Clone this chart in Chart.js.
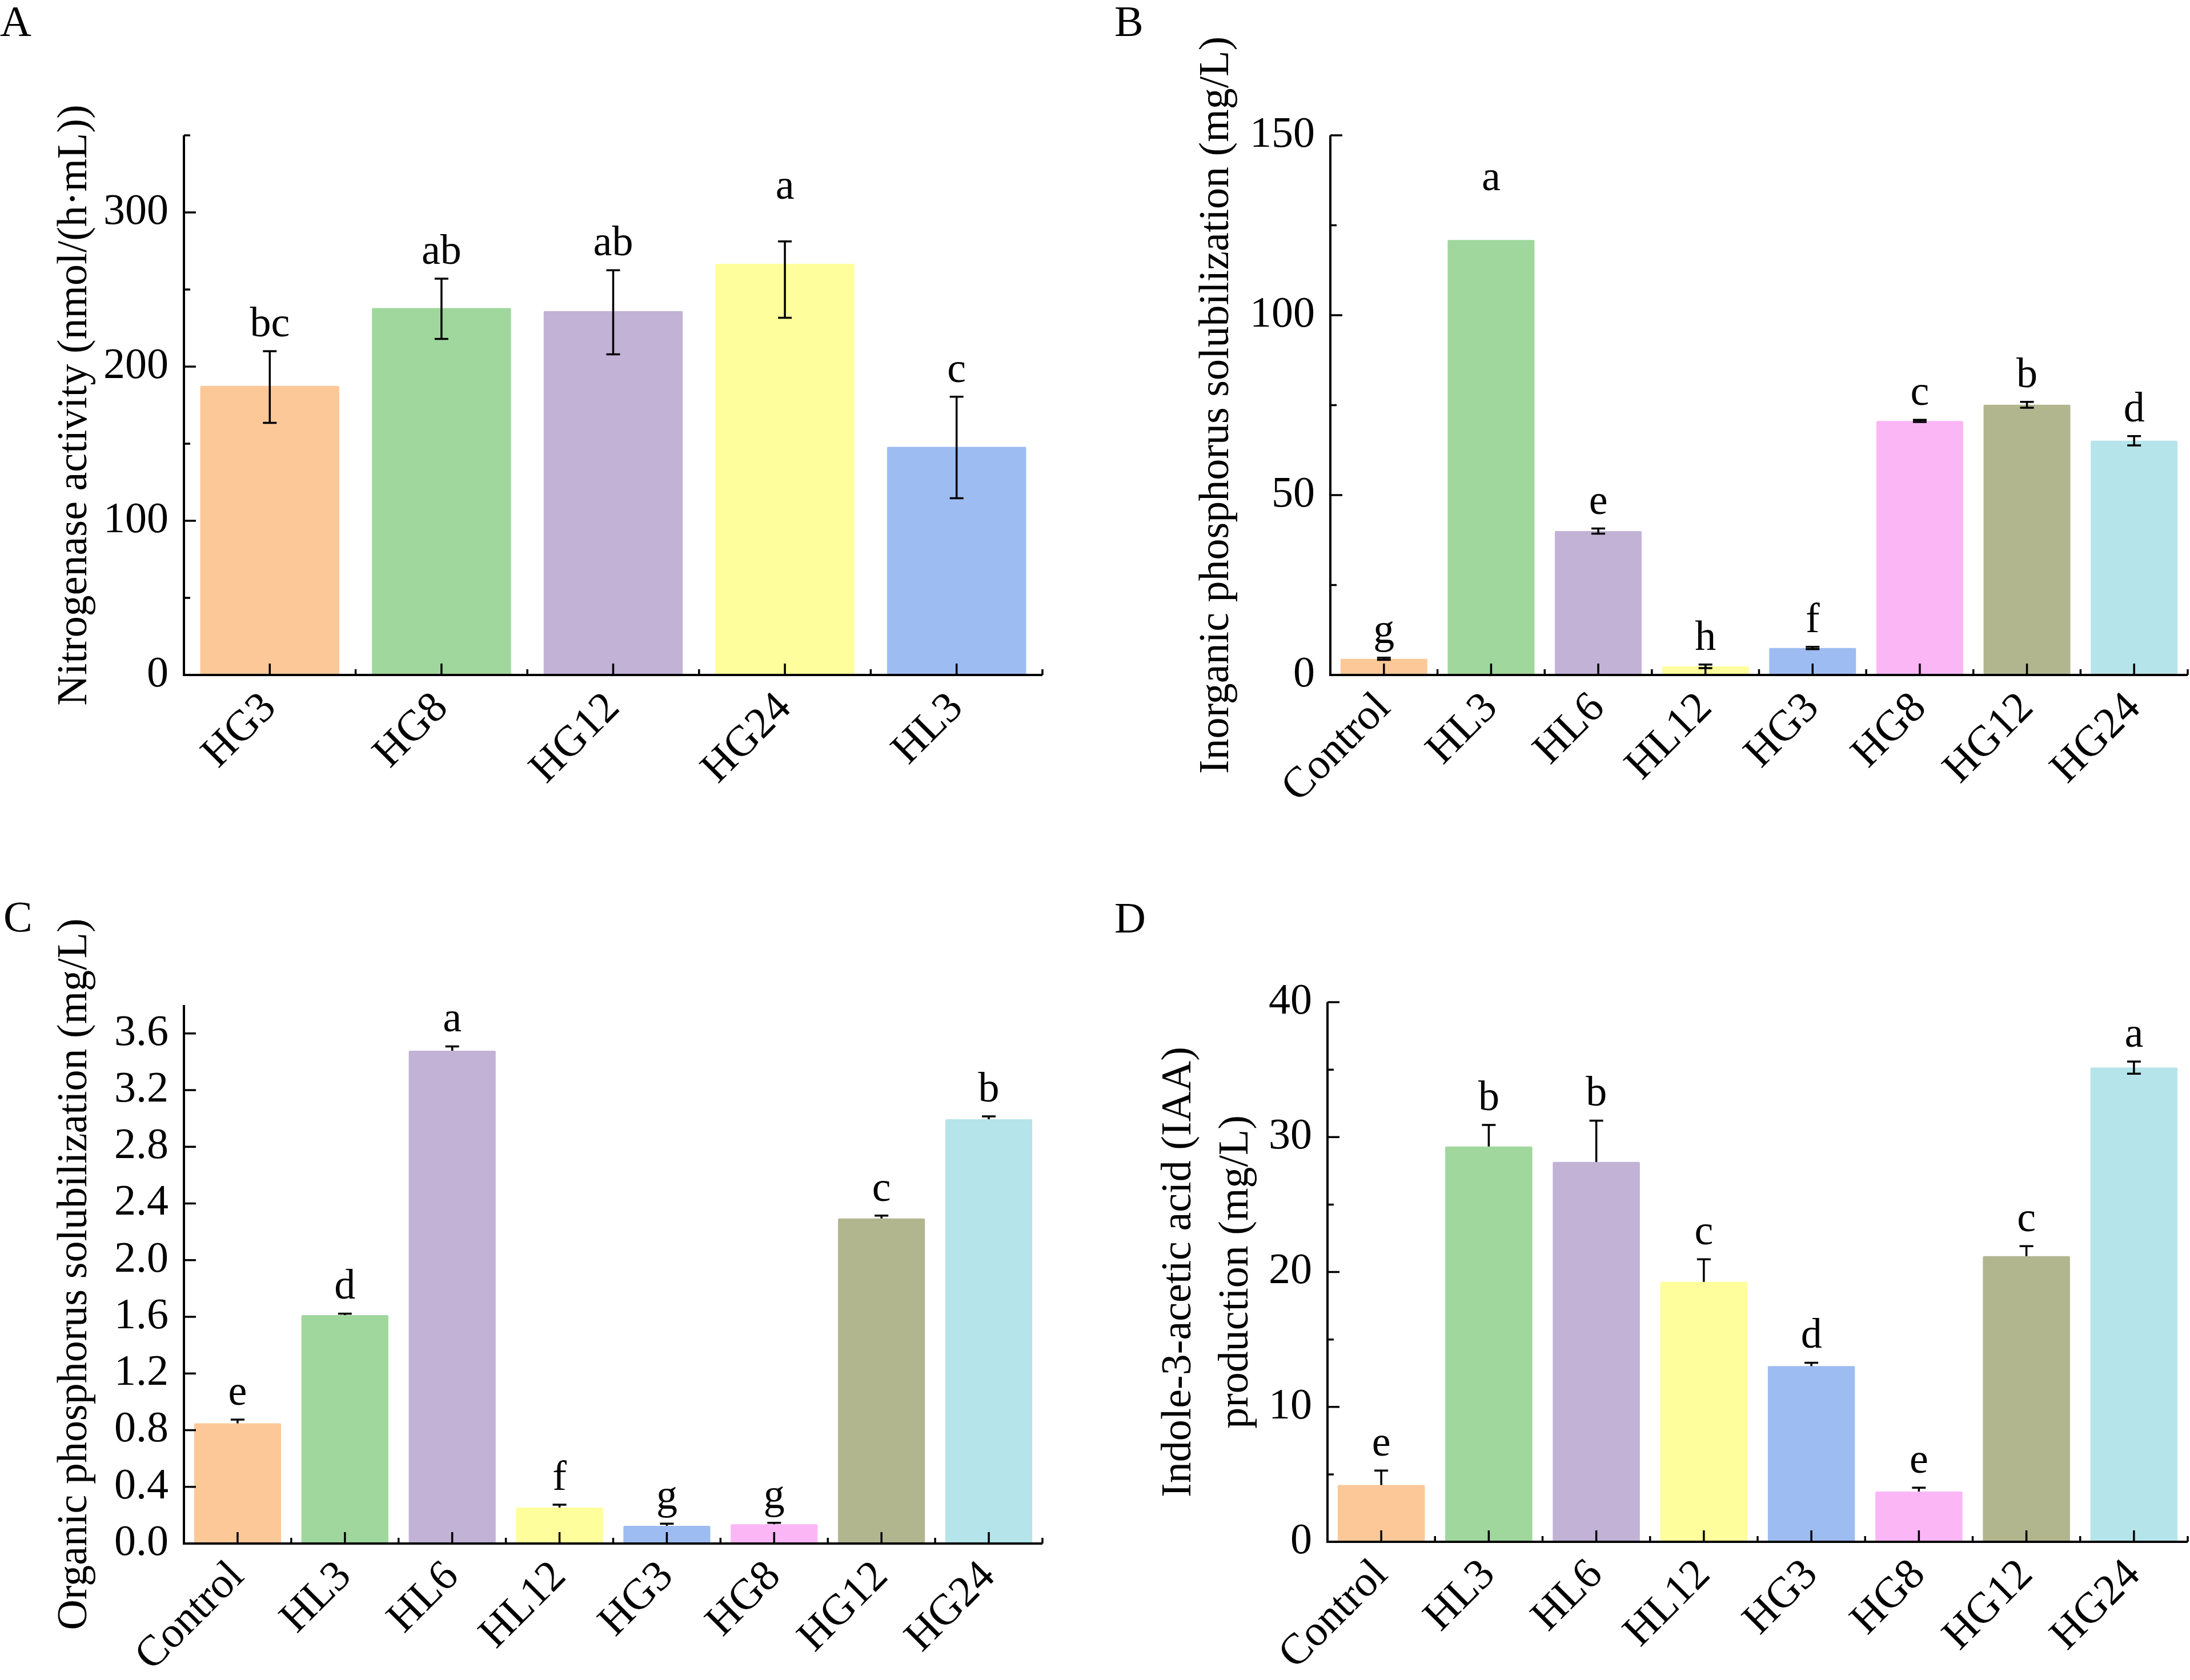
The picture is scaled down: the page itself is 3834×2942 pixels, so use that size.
<!DOCTYPE html>
<html lang="en">
<head>
  <meta charset="UTF-8">
  <title>Strain traits</title>
  <script src="https://cdn.jsdelivr.net/npm/chart.js@4"></script>
  <style>
    body {
      margin: 0;
      background: #fff;
      width: 3834px;
      height: 2942px;
      position: relative;
      overflow: hidden;
    }
    .panel {
      position: absolute;
      width: 1917px;
      height: 1471px;
    }
  </style>
</head>
<body>
  <div class="panel" style="left:0;top:0"><canvas id="chartA"></canvas></div>
  <div class="panel" style="left:1917px;top:0"><canvas id="chartB"></canvas></div>
  <div class="panel" style="left:0;top:1471px"><canvas id="chartC"></canvas></div>
  <div class="panel" style="left:1917px;top:1471px"><canvas id="chartD"></canvas></div>

  <script>
    // panel A - nitrogenase activity
    const catsA = ['HG3', 'HG8', 'HG12', 'HG24', 'HL3'];
    const valsA = [187.5, 238, 236, 266.7, 148];
    const errUpA = [22.5, 19, 26.5, 14.5, 32.5];
    const errDownA = [24, 20, 28, 35, 33.4];
    const lettersA = ['bc', 'ab', 'ab', 'a', 'c'];

    // panels B, C, D share the same strains
    const catsStrains = ['Control', 'HL3', 'HL6', 'HL12', 'HG3', 'HG8', 'HG12', 'HG24'];

    const valsB = [4.5, 120.9, 40.0, 2.4, 7.5, 70.6, 75.1, 65.1];
    const errB = [0.3, 0, 0.7, 0.5, 0.3, 0.3, 0.8, 1.3];
    const lettersB = ['g', 'a', 'e', 'h', 'f', 'c', 'b', 'd'];

    // C and D: mostly only the upper half of the error bar shows
    const valsC = [0.848, 1.612, 3.478, 0.254, 0.125, 0.136, 2.294, 2.994];
    const errUpC = [0.026, 0.01, 0.03, 0.02, 0.015, 0.01, 0.02, 0.02];
    const errDownC = [0, 0, 0, 0, 0, 0, 0, 0];
    const lettersC = ['e', 'd', 'a', 'f', 'g', 'g', 'c', 'b'];

    const valsD = [4.21, 29.3, 28.16, 19.27, 13.03, 3.73, 21.17, 35.15];
    const errUpD = [1.07, 1.6, 3.06, 1.67, 0.24, 0.28, 0.75, 0.45];
    const errDownD = [0, 0, 0, 0, 0, 0, 0, 0.45];
    const lettersD = ['e', 'b', 'b', 'c', 'd', 'e', 'c', 'a'];

    const colorsA = ['#FDC897', '#9FD79C', '#C2B2D6', '#FEFE9C', '#9DBCF2'];
    const colorsStrains = ['#FDC897', '#9FD79C', '#C2B2D6', '#FEFE9C', '#9DBCF2', '#FBB6F6', '#B2B68F', '#B5E4EA'];

    const FONT = 'Liberation Serif';
    Chart.defaults.font.family = FONT;
    Chart.defaults.color = '#000';

    function decorPlugin(cfg) {
      return {
        id: 'decor' + cfg.panel,
        afterDatasetsDraw(chart) {
          const { ctx, chartArea: area, scales: { x, y } } = chart;
          ctx.save();
          ctx.strokeStyle = '#000';
          ctx.fillStyle = '#000';

          // error bars
          ctx.lineWidth = 3.5;
          ctx.beginPath();
          cfg.vals.forEach((v, i) => {
            const up = cfg.errUp[i], down = cfg.errDown[i];
            const px = x.getPixelForValue(i);
            const top = y.getPixelForValue(v + up);
            const bot = y.getPixelForValue(v - down);
            if (up || down) {
              ctx.moveTo(px, top);
              ctx.lineTo(px, bot);
            }
            if (up) {
              ctx.moveTo(px - 12, top);
              ctx.lineTo(px + 12, top);
            }
            if (down) {
              ctx.moveTo(px - 12, bot);
              ctx.lineTo(px + 12, bot);
            }
          });
          ctx.stroke();

          // significance letters
          ctx.font = '74px "' + FONT + '"';
          ctx.textAlign = 'center';
          ctx.textBaseline = 'alphabetic';
          cfg.letters.forEach((t, i) => {
            const px = x.getPixelForValue(i);
            const lift = (cfg.letterLift && cfg.letterLift[i]) || 0;
            const py = y.getPixelForValue(cfg.vals[i] + cfg.errUp[i]) - 26 - lift;
            ctx.fillText(t, px, py);
          });

          // axes with inward ticks
          ctx.lineWidth = 4;
          ctx.beginPath();
          ctx.moveTo(area.left, area.top);
          ctx.lineTo(area.left, area.bottom);
          ctx.lineTo(area.right, area.bottom);
          ctx.stroke();

          ctx.lineWidth = 3.5;
          ctx.beginPath();
          y.ticks.forEach(t => {
            const major = t.label !== '';
            const py = y.getPixelForValue(t.value);
            ctx.moveTo(area.left, py);
            ctx.lineTo(area.left + (major ? 21 : 11), py);
          });
          const half = (x.getPixelForValue(1) - x.getPixelForValue(0)) / 2;
          cfg.cats.forEach((c, i) => {
            const px = x.getPixelForValue(i);
            ctx.moveTo(px, area.bottom);
            ctx.lineTo(px, area.bottom - 20);
            ctx.moveTo(px + half, area.bottom);
            ctx.lineTo(px + half, area.bottom - 10);
          });
          ctx.stroke();

          // panel letter
          ctx.font = '76px "' + FONT + '"';
          ctx.textAlign = 'left';
          ctx.fillText(cfg.panel, cfg.labelPos[0], cfg.labelPos[1]);
          ctx.restore();
        }
      };
    }

    function makePanel(id, cfg) {
      const step = cfg.yStep;
      return new Chart(document.getElementById(id), {
        type: 'bar',
        data: {
          labels: cfg.cats,
          datasets: [{
            data: cfg.vals,
            backgroundColor: cfg.colors,
            borderWidth: 0,
            borderRadius: 2,
            barPercentage: 0.81,
            categoryPercentage: 1
          }]
        },
        options: {
          responsive: true,
          maintainAspectRatio: false,
          animation: false,
          devicePixelRatio: 1,
          layout: { padding: cfg.padding },
          plugins: { legend: { display: false }, tooltip: { enabled: false } },
          scales: {
            x: {
              grid: { display: false, drawTicks: false },
              border: { display: false },
              ticks: {
                color: '#000',
                font: { size: 76 },
                minRotation: 45,
                maxRotation: 45,
                autoSkip: false,
                padding: 14
              },
              afterFit: s => { s.height = cfg.xHeight; }
            },
            y: {
              min: 0,
              max: cfg.yMax,
              grid: { display: false, drawTicks: false },
              border: { display: false },
              ticks: {
                stepSize: step,
                color: '#000',
                font: { size: 76 },
                padding: 27,
                callback: v => Math.round(v / step) % cfg.labelEvery === 0 ? v.toFixed(cfg.decimals) : ''
              },
              title: {
                display: true,
                text: cfg.title,
                color: '#000',
                font: { size: 74, lineHeight: 1.35 },
                padding: { top: cfg.titlePad, bottom: 0 }
              },
              afterFit: s => { s.width = cfg.yWidth; }
            }
          }
        },
        plugins: [decorPlugin(cfg)]
      });
    }

    makePanel('chartA', {
      panel: 'A', labelPos: [0, 63],
      cats: catsA, vals: valsA, errUp: errUpA, errDown: errDownA, letters: lettersA, colors: colorsA,
      letterLift: { 3: 49 },
      yMax: 350, yStep: 50, labelEvery: 2, decimals: 0,
      title: 'Nitrogenase activity (nmol/(h\u00B7mL))', titlePad: 82,
      padding: { left: 0, top: 237, right: 92, bottom: 0 }, yWidth: 322, xHeight: 289
    });

    makePanel('chartB', {
      panel: 'B', labelPos: [34, 63],
      cats: catsStrains, vals: valsB, errUp: errB, errDown: errB, letters: lettersB, colors: colorsStrains,
      letterLift: { 1: 61 },
      yMax: 150, yStep: 25, labelEvery: 2, decimals: 0,
      title: 'Inorganic phosphorus solubilization (mg/L)', titlePad: 164,
      padding: { left: 0, top: 237, right: 4, bottom: 0 }, yWidth: 412, xHeight: 289
    });

    makePanel('chartC', {
      panel: 'C', labelPos: [6, 160],
      cats: catsStrains, vals: valsC, errUp: errUpC, errDown: errDownC, letters: lettersC, colors: colorsStrains,
      yMax: 3.8, yStep: 0.2, labelEvery: 2, decimals: 1,
      title: 'Organic phosphorus solubilization (mg/L)', titlePad: 82,
      padding: { left: 0, top: 289, right: 92, bottom: 0 }, yWidth: 322, xHeight: 239
    });

    makePanel('chartD', {
      panel: 'D', labelPos: [34, 162],
      cats: catsStrains, vals: valsD, errUp: errUpD, errDown: errDownD, letters: lettersD, colors: colorsStrains,
      yMax: 40, yStep: 5, labelEvery: 2, decimals: 0,
      title: ['Indole-3-acetic acid (IAA)', 'production (mg/L)'], titlePad: 98,
      padding: { left: 0, top: 284, right: 4, bottom: 0 }, yWidth: 407, xHeight: 242
    });
  </script>
</body>
</html>
